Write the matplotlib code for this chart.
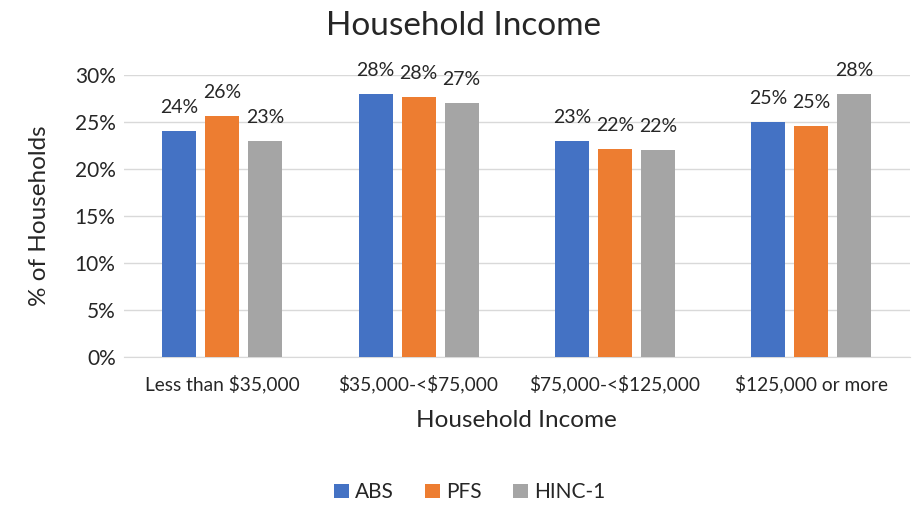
import numpy as np
import matplotlib
matplotlib.use("Agg")
import matplotlib.pyplot as plt

plt.rcParams['font.family'] = ['Lato', 'DejaVu Sans']
plt.rcParams['text.parse_math'] = False

categories = ["Less than $35,000", "$35,000-<$75,000", "$75,000-<$125,000", "$125,000 or more"]
abs_vals = [24.0, 28.0, 23.0, 25.0]
pfs_vals = [25.6, 27.7, 22.1, 24.6]
hinc_vals = [23.0, 27.0, 22.0, 28.0]
series_names = ["ABS", "PFS", "HINC-1"]
colors = ["#4472C4", "#ED7D31", "#A5A5A5"]
txt = '#262626'

fig = plt.figure(figsize=(9.21, 5.07), dpi=100)
ax = fig.add_axes([0.1346, 0.296, 0.853, 0.556])

x = np.arange(len(categories))
w = 0.173
step = 0.219
for i, (vals, name, c) in enumerate(zip([abs_vals, pfs_vals, hinc_vals], series_names, colors)):
    bars = ax.bar(x + (i - 1) * step, vals, width=w, color=c, label=name, zorder=3)
    for b, v in zip(bars, vals):
        ax.text(b.get_x() + b.get_width() / 2, v + 1.6, "%d%%" % round(v),
                ha='center', va='bottom', fontsize=14, color=txt)

ax.set_xlim(-0.5, len(categories) - 0.5)
ax.set_ylim(0, 30)
ax.set_yticks(np.arange(0, 31, 5))
ax.set_yticklabels(["%d%%" % t for t in range(0, 31, 5)], fontsize=15, color=txt)
ax.set_xticks(x)
ax.set_xticklabels(categories, fontsize=13.8, color=txt)
ax.tick_params(length=0, pad=13)
ax.tick_params(axis='y', pad=6)
ax.grid(axis='y', color='#D9D9D9', linewidth=1, zorder=0)
for s in ['top', 'right', 'left']:
    ax.spines[s].set_visible(False)
ax.spines['bottom'].set_color('#D9D9D9')

ax.set_ylabel("% of Households", fontsize=17.5, color=txt, labelpad=18)
ax.set_xlabel("Household Income", fontsize=17.5, color=txt, labelpad=12)
fig.suptitle("Household Income", fontsize=24, color=txt, x=0.503, y=0.978)

fig.legend(loc='center', bbox_to_anchor=(0.51, 0.029), ncol=3, frameon=False,
           fontsize=15, handlelength=0.7, handleheight=0.7, handletextpad=0.3, columnspacing=1.5,
           labelcolor=txt)

fig.savefig("out.png", dpi=100)
